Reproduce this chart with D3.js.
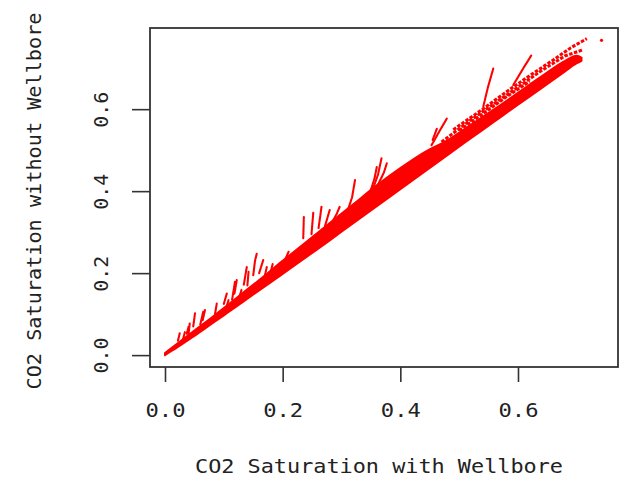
<!DOCTYPE html>
<html><head><meta charset="utf-8">
<script src="https://cdn.jsdelivr.net/npm/d3@7"></script>
<style>body{margin:0;background:#fff}svg{display:block}</style>
</head><body>
<svg id="c" width="625" height="482"></svg>
<script>
// ---- data ----
const xTicks = [0.0, 0.2, 0.4, 0.6];
const yTicks = [0.0, 0.2, 0.4, 0.6];
const xTitle = "CO2 Saturation with Wellbore";
const yTitle = "CO2 Saturation without Wellbore";

// dense core of the point cloud: envelope of the band
const bandX    = [0.000,0.020,0.050,0.080,0.100,0.130,0.160,0.200,0.240,0.280,0.320,0.360,0.400,0.440,0.480,0.520,0.560,0.600,0.640,0.680,0.700,0.708];
const bandLow  = [0.000,0.018,0.047,0.077,0.097,0.127,0.158,0.198,0.239,0.280,0.322,0.363,0.405,0.446,0.488,0.529,0.570,0.611,0.651,0.692,0.712,0.718];
const bandHigh = [0.005,0.027,0.060,0.092,0.115,0.149,0.183,0.230,0.276,0.322,0.368,0.414,0.456,0.494,0.524,0.562,0.600,0.640,0.680,0.718,0.730,0.726];

// upward "whiskers" (trajectories leaving the band)
const whiskers = [
  [[0.541,0.606],[0.549,0.654],[0.558,0.699]],
  [[0.592,0.659],[0.607,0.695],[0.623,0.732]],
  [[0.453,0.512],[0.466,0.545],[0.479,0.577]],
  [[0.455,0.525],[0.462,0.552]],
  [[0.352,0.400],[0.362,0.440],[0.368,0.480]],
  [[0.360,0.410],[0.372,0.445],[0.377,0.468]],
  [[0.348,0.395],[0.356,0.430],[0.360,0.459]],
  [[0.309,0.346],[0.318,0.385],[0.323,0.427]],
  [[0.283,0.321],[0.292,0.345],[0.297,0.362]],
  [[0.261,0.310],[0.264,0.340],[0.266,0.362]],
  [[0.249,0.295],[0.252,0.347]],
  [[0.235,0.285],[0.236,0.337]],
  [[0.272,0.315],[0.280,0.354]],
  [[0.150,0.195],[0.153,0.230],[0.156,0.248]],
  [[0.160,0.200],[0.167,0.232]],
  [[0.134,0.172],[0.139,0.215]],
  [[0.118,0.150],[0.122,0.183]],
  [[0.100,0.125],[0.105,0.150]],
  [[0.085,0.100],[0.088,0.126]],
  [[0.064,0.085],[0.068,0.110]],
  [[0.048,0.070],[0.051,0.102]],
  [[0.037,0.052],[0.040,0.069]],
  [[0.022,0.035],[0.025,0.053]],
  [[0.030,0.035],[0.034,0.057]],
  [[0.040,0.050],[0.042,0.077]],
  [[0.060,0.075],[0.065,0.106]],
  [[0.104,0.115],[0.108,0.134]],
  [[0.114,0.135],[0.119,0.179]],
  [[0.126,0.140],[0.130,0.159]],
  [[0.140,0.170],[0.142,0.203]],
  [[0.170,0.195],[0.173,0.215]],
  [[0.180,0.205],[0.183,0.222]],
  [[0.205,0.235],[0.210,0.252]]
];

// lacy strands forming the upper part of the cloud at high saturation
const strands = [
  [[0.470,0.520],[0.520,0.574],[0.560,0.614],[0.600,0.654],[0.640,0.694],[0.680,0.730],[0.711,0.745]],
  [[0.490,0.550],[0.540,0.600],[0.580,0.642],[0.620,0.682],[0.660,0.720],[0.690,0.750],[0.717,0.772]],
  [[0.500,0.548],[0.540,0.588],[0.580,0.630],[0.620,0.668]]
];
const loneX = [0.742];
const loneY = [0.768];

// ---- drawing ----
const svg = d3.select("#c");
const x = d3.scaleLinear().domain([-0.0255, 0.77]).range([150, 618]);
const y = d3.scaleLinear().domain([-0.029, 0.798]).range([367, 28]);
const red = "#ff0000";
const font = "'DejaVu Sans Mono', monospace";

const plot = svg.append("g");
const band = bandX.map((v,i)=>({x:v, lo:bandLow[i], hi:bandHigh[i]}));
plot.append("path").datum(band)
  .attr("d", d3.area().x(d=>x(d.x)).y0(d=>y(d.lo)).y1(d=>y(d.hi)).curve(d3.curveMonotoneX))
  .attr("fill", red).attr("stroke", red).attr("stroke-width", 2).attr("stroke-linejoin","round");

const ln = d3.line().x(d=>x(d[0])).y(d=>y(d[1]));
plot.selectAll("path.w").data(whiskers).join("path").attr("class","w")
  .attr("d", ln).attr("fill","none").attr("stroke", red).attr("stroke-width", 2.1)
  .attr("stroke-linecap","round").attr("stroke-dasharray","2.5,0.7");
plot.selectAll("path.s").data(strands).join("path").attr("class","s")
  .attr("d", ln).attr("fill","none").attr("stroke", red).attr("stroke-width", 3)
  .attr("stroke-dasharray","3.5,1.5");
plot.selectAll("circle.l").data(loneX).join("circle").attr("class","l")
  .attr("cx", d=>x(d)).attr("cy", (d,i)=>y(loneY[i])).attr("r", 1.6).attr("fill", red);

// axes
const xa = svg.append("g").attr("transform","translate(0,367)")
  .call(d3.axisBottom(x).tickValues(xTicks).tickFormat(d3.format(".1f")).tickSize(15).tickSizeOuter(0));
xa.select(".domain").remove();
xa.selectAll("line").attr("stroke","#333").attr("stroke-width",1.6);
xa.selectAll("text").attr("dy",null).attr("y",50)
  .attr("font-family",font).attr("font-size",19).attr("fill","#222")
  .attr("textLength",40).attr("lengthAdjust","spacingAndGlyphs");

const ya = svg.append("g").attr("transform","translate(150,0)")
  .call(d3.axisLeft(y).tickValues(yTicks).tickFormat(d3.format(".1f")).tickSize(18).tickSizeOuter(0));
ya.select(".domain").remove();
ya.selectAll("line").attr("stroke","#333").attr("stroke-width",1.6);
ya.selectAll("text").attr("dy",null).attr("x",null)
  .attr("transform","translate(-42,0) rotate(-90)").attr("text-anchor","middle")
  .attr("font-family",font).attr("font-size",19).attr("fill","#222")
  .attr("textLength",36).attr("lengthAdjust","spacingAndGlyphs");

// box
svg.append("rect").attr("x",150).attr("y",28).attr("width",468).attr("height",339)
  .attr("fill","none").attr("stroke","#333").attr("stroke-width",1.8);

// titles
svg.append("text").attr("x",379).attr("y",473).attr("text-anchor","middle")
  .attr("font-family",font).attr("font-size",19).attr("fill","#222")
  .attr("textLength",368).attr("lengthAdjust","spacingAndGlyphs").text(xTitle);
svg.append("text").attr("transform","translate(41,201) rotate(-90)").attr("text-anchor","middle")
  .attr("font-family",font).attr("font-size",19).attr("fill","#222")
  .attr("textLength",377).attr("lengthAdjust","spacingAndGlyphs").text(yTitle);
</script>
</body></html>
